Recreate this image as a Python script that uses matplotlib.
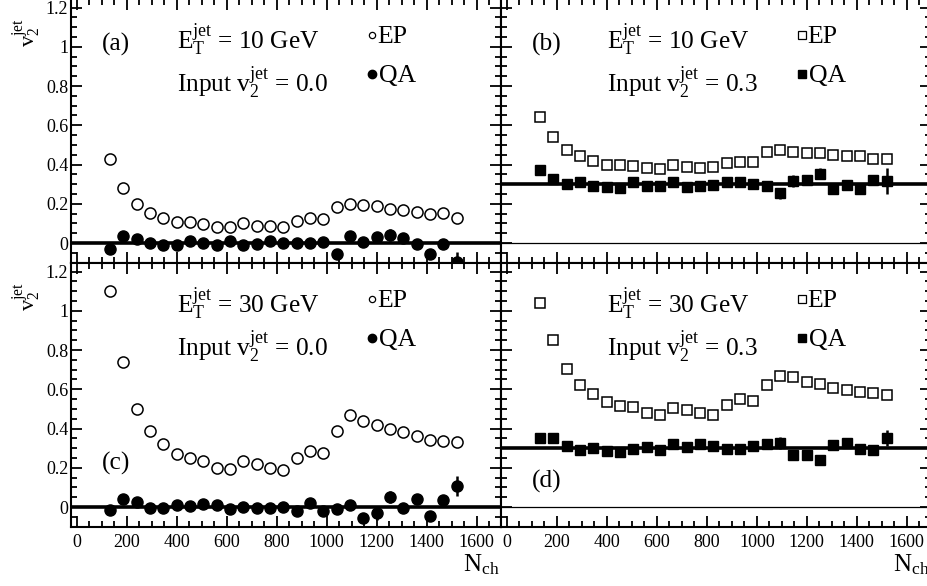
import matplotlib
matplotlib.use("Agg")
import matplotlib.pyplot as plt
from matplotlib.ticker import MultipleLocator, FuncFormatter

plt.rcParams["font.family"] = ["Liberation Serif", "DejaVu Serif"]
plt.rcParams["mathtext.fontset"] = "custom"
plt.rcParams["mathtext.rm"] = "Liberation Serif"
plt.rcParams["mathtext.it"] = "Liberation Serif"

# --- dados ---
n_ch = [133, 186, 240, 293, 346, 400, 453, 506, 560, 613, 666, 720, 773, 826,
        880, 933, 986, 1040, 1093, 1146, 1200, 1253, 1306, 1360, 1413, 1466, 1520]

# (a) E_T = 10 GeV, input v2 = 0.0
ep_a = [0.43, 0.28, 0.20, 0.155, 0.13, 0.105, 0.105, 0.095, 0.083, 0.083, 0.10,
        0.088, 0.088, 0.08, 0.115, 0.129, 0.122, 0.183, 0.20, 0.193, 0.188,
        0.173, 0.166, 0.159, 0.147, 0.151, 0.129]
qa_a = [-0.03, 0.034, 0.02, 0.002, -0.008, -0.008, 0.012, 0.002, -0.008, 0.009,
        -0.008, -0.003, 0.009, 0.0, 0.0, 0.002, 0.003, -0.058, 0.037, 0.007,
        0.03, 0.042, 0.024, -0.003, -0.054, -0.007, -0.097]
qa_a_err = [0.012, 0.01, 0.008, 0.008, 0.008, 0.008, 0.008, 0.008, 0.008, 0.008,
            0.008, 0.008, 0.008, 0.01, 0.01, 0.01, 0.012, 0.02, 0.025, 0.025,
            0.025, 0.03, 0.025, 0.02, 0.02, 0.02, 0.05]

# (b) E_T = 10 GeV, input v2 = 0.3
ep_b = [0.641, 0.540, 0.476, 0.442, 0.420, 0.398, 0.398, 0.391, 0.383, 0.378,
        0.398, 0.388, 0.384, 0.386, 0.406, 0.415, 0.415, 0.462, 0.476, 0.465,
        0.457, 0.457, 0.447, 0.445, 0.442, 0.427, 0.428]
qa_b = [0.371, 0.324, 0.300, 0.309, 0.292, 0.287, 0.282, 0.309, 0.292, 0.292,
        0.310, 0.287, 0.293, 0.298, 0.310, 0.312, 0.302, 0.292, 0.253, 0.315,
        0.319, 0.354, 0.275, 0.295, 0.275, 0.320, 0.315]
qa_b_err = [0.022, 0.01, 0.01, 0.01, 0.008, 0.008, 0.008, 0.008, 0.008, 0.008,
            0.008, 0.008, 0.008, 0.008, 0.008, 0.008, 0.01, 0.025, 0.03, 0.03,
            0.025, 0.03, 0.022, 0.02, 0.022, 0.022, 0.065]

# (c) E_T = 30 GeV, input v2 = 0.0
ep_c = [1.101, 0.737, 0.502, 0.388, 0.319, 0.268, 0.251, 0.236, 0.200, 0.193,
        0.237, 0.220, 0.201, 0.189, 0.250, 0.288, 0.275, 0.388, 0.469, 0.440,
        0.418, 0.396, 0.381, 0.362, 0.341, 0.335, 0.331]
qa_c = [-0.017, 0.039, 0.027, -0.007, -0.003, 0.012, 0.003, 0.015, 0.009, -0.012,
        -0.002, -0.003, -0.005, 0.001, -0.02, 0.019, -0.019, -0.01, 0.009, -0.056,
        -0.031, 0.05, -0.003, 0.041, -0.044, 0.036, 0.106]
qa_c_err = [0.02, 0.01, 0.01, 0.008, 0.008, 0.008, 0.008, 0.008, 0.008, 0.008,
            0.008, 0.008, 0.008, 0.008, 0.01, 0.01, 0.01, 0.02, 0.025, 0.025,
            0.035, 0.03, 0.02, 0.025, 0.02, 0.02, 0.05]

# (d) E_T = 30 GeV, input v2 = 0.3
ep_d = [1.042, 0.849, 0.705, 0.620, 0.576, 0.534, 0.517, 0.508, 0.481, 0.471,
        0.503, 0.497, 0.481, 0.471, 0.519, 0.549, 0.539, 0.624, 0.669, 0.661,
        0.637, 0.629, 0.608, 0.598, 0.585, 0.581, 0.571]
qa_d = [0.351, 0.353, 0.310, 0.293, 0.300, 0.286, 0.281, 0.297, 0.305, 0.293,
        0.322, 0.305, 0.319, 0.310, 0.295, 0.297, 0.310, 0.319, 0.327, 0.264,
        0.264, 0.239, 0.317, 0.327, 0.298, 0.290, 0.353]
qa_d_err = [0.025, 0.01, 0.01, 0.008, 0.008, 0.008, 0.008, 0.008, 0.008, 0.008,
            0.008, 0.008, 0.008, 0.008, 0.008, 0.008, 0.01, 0.025, 0.03, 0.025,
            0.025, 0.02, 0.025, 0.025, 0.02, 0.02, 0.04]

panel_labels = ["(a)", "(b)", "(c)", "(d)"]
energies = ["10", "10", "30", "30"]
input_v2 = [0.0, 0.3, 0.0, 0.3]

# posicoes dos paineis (fração da figura)
X_LEFT, X_RIGHT, W = 0.0766, 0.5405, 0.4639
Y_BOT, Y_TOP, H = 0.1012, 0.5517, 0.4505


def setup_axes(ax, show_x, show_y):
    ax.set_xlim(-23, 1697)
    ax.set_ylim(-0.1, 1.245)
    ax.xaxis.set_major_locator(MultipleLocator(200))
    ax.xaxis.set_minor_locator(MultipleLocator(50))
    ax.yaxis.set_major_locator(MultipleLocator(0.2))
    ax.yaxis.set_minor_locator(MultipleLocator(0.05))
    ax.yaxis.set_major_formatter(FuncFormatter(lambda v, p: f"{v:g}"))
    ax.tick_params(which="both", direction="in", top=True, right=True,
                   width=1.3, labelsize=13, color="black")
    ax.tick_params(which="major", length=8)
    ax.tick_params(which="minor", length=4.5)
    ax.tick_params(axis="x", pad=5)
    ax.tick_params(axis="y", pad=2)
    ax.tick_params(labelbottom=show_x, labelleft=show_y)
    for sp in ax.spines.values():
        sp.set_linewidth(1.5)


def draw_panel(ax, idx, ep, qa, qa_err, square):
    v_in = input_v2[idx]
    ax.axhline(v_in, color="black", lw=2.6, zorder=1)
    if v_in != 0:
        ax.axhline(0, color="black", lw=0.9, zorder=1)

    mk = "s" if square else "o"
    ms = 7.2 if square else 8
    ax.plot(n_ch, ep, ls="none", marker=mk, ms=ms, mfc="white", mec="black",
            mew=1.1, zorder=3)
    ax.errorbar(n_ch, qa, yerr=qa_err, fmt=mk, ms=ms, color="black",
                elinewidth=1.8, capsize=0, zorder=4)

    # textos
    tkw = dict(transform=ax.transAxes, fontsize=18.3, va="baseline", ha="left")
    if idx == 0 or idx == 1:
        ax.text(0.072, 0.805, panel_labels[idx], **tkw)
    elif idx == 2:
        ax.text(0.072, 0.215, panel_labels[idx], **tkw)
    else:
        ax.text(0.072, 0.150, panel_labels[idx], **tkw)
    ax.text(0.247, 0.81, r"$\mathrm{E_T^{jet}}$ = %s GeV" % energies[idx], **tkw)
    ax.text(0.247, 0.648, r"Input $\mathrm{v_2^{jet}}$ = %.1f" % v_in, **tkw)

    # legenda manual
    lkw = dict(transform=ax.transAxes, fontsize=18.5, va="baseline", ha="left")
    ax.plot([0.70], [0.862], transform=ax.transAxes, marker=mk,
            ms=5.5 if square else 4.5, mfc="white", mec="black", mew=0.9,
            ls="none", clip_on=False)
    ax.plot([0.70], [0.716], transform=ax.transAxes, marker=mk,
            ms=6, color="black", ls="none", clip_on=False)
    ax.text(0.712, 0.834, "EP", **lkw)
    ax.text(0.716, 0.686, "QA", **lkw)


fig = plt.figure(figsize=(9.27, 5.86), dpi=100)
fig.patch.set_facecolor("white")

ax_a = fig.add_axes([X_LEFT, Y_TOP, W, H])
ax_b = fig.add_axes([X_RIGHT, Y_TOP, W, H])
ax_c = fig.add_axes([X_LEFT, Y_BOT, W, H])
ax_d = fig.add_axes([X_RIGHT, Y_BOT, W, H])

setup_axes(ax_a, False, True)
setup_axes(ax_b, False, False)
setup_axes(ax_c, True, True)
setup_axes(ax_d, True, False)

draw_panel(ax_a, 0, ep_a, qa_a, qa_a_err, False)
draw_panel(ax_b, 1, ep_b, qa_b, qa_b_err, True)
draw_panel(ax_c, 2, ep_c, qa_c, qa_c_err, False)
draw_panel(ax_d, 3, ep_d, qa_d, qa_d_err, True)

# rótulos dos eixos
for ax in (ax_a, ax_c):
    ax.text(-0.102, 0.87, r"$\mathrm{v_2^{jet}}$", transform=ax.transAxes,
            fontsize=16, rotation=90, ha="center", va="center")
for ax in (ax_c, ax_d):
    ax.text(0.953, -0.145, r"$\mathrm{N_{ch}}$", transform=ax.transAxes,
            fontsize=18, ha="center", va="center")

fig.savefig("out.png", dpi=100)
